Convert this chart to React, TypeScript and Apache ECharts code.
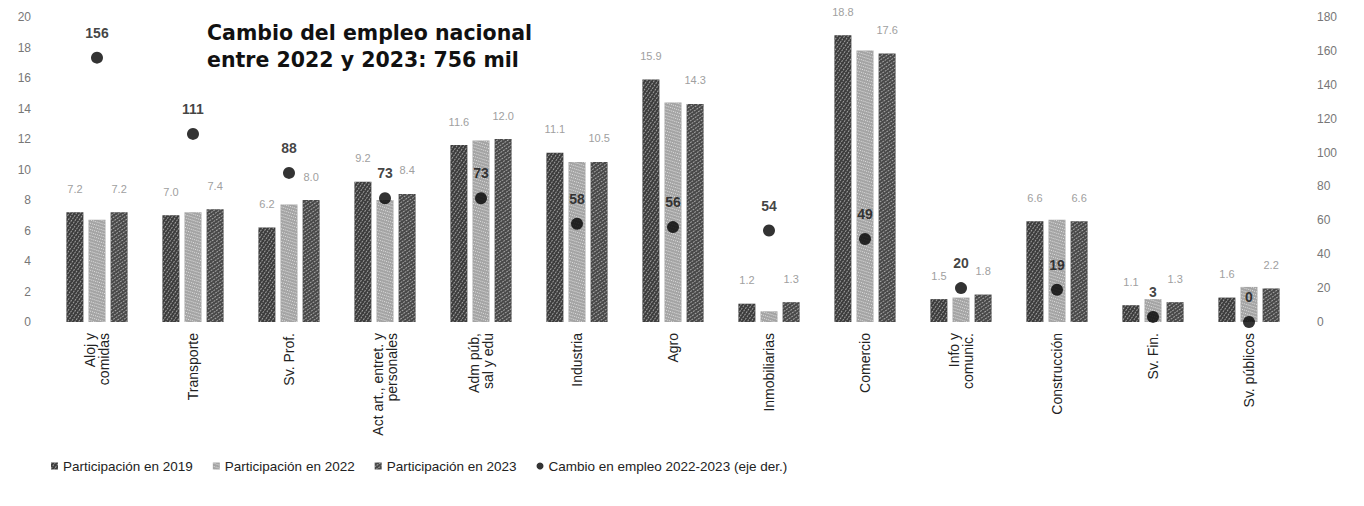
import React, { useEffect, useRef } from "react";
import * as echarts from "echarts";

const categories = [
  "Aloj y\ncomidas",
  "Transporte",
  "Sv. Prof.",
  "Act art., entret. y\npersonales",
  "Adm púb,\nsal y edu",
  "Industria",
  "Agro",
  "Inmobiliarias",
  "Comercio",
  "Info y\ncomunic.",
  "Construcción",
  "Sv. Fin.",
  "Sv. públicos",
];

const part2019 = [7.2, 7.0, 6.2, 9.2, 11.6, 11.1, 15.9, 1.2, 18.8, 1.5, 6.6, 1.1, 1.6];
const part2022 = [6.7, 7.2, 7.7, 8.0, 11.9, 10.5, 14.4, 0.7, 17.8, 1.6, 6.7, 1.5, 2.3];
const part2023 = [7.2, 7.4, 8.0, 8.4, 12.0, 10.5, 14.3, 1.3, 17.6, 1.8, 6.6, 1.3, 2.2];
const cambio = [156, 111, 88, 73, 73, 58, 56, 54, 49, 20, 19, 3, 0];

const leftTicks = { min: 0, max: 20, interval: 2 };
const rightTicks = { min: 0, max: 180, interval: 20 };

export default function App() {
  const ref = useRef<HTMLDivElement>(null);
  useEffect(() => {
    if (!ref.current) return;
    const chart = echarts.init(ref.current, undefined, { renderer: "svg" });
    const font = "Liberation Sans, Arial, sans-serif";
    const barLabel = {
      show: true,
      position: "top",
      distance: 18,
      color: "#a0a0a0",
      fontSize: 11,
      fontFamily: font,
      formatter: (p: any) => Number(p.value).toFixed(1),
    };
    chart.setOption({
      animation: false,
      textStyle: { fontFamily: font },
      graphic: [
        {
          type: "text",
          left: 207,
          top: 19,
          style: {
            text: "Cambio del empleo nacional\nentre 2022 y 2023: 756 mil",
            fontSize: 20.5,
            fontWeight: "bold",
            lineHeight: 27,
            fill: "#111",
            fontFamily: "DejaVu Sans, Verdana, sans-serif",
          },
        },
      ],
      grid: { left: 49, right: 67, top: 17, bottom: 184 },
      legend: {
        left: 46,
        top: 454,
        itemWidth: 7,
        itemHeight: 7,
        itemGap: 20,
        textStyle: { fontSize: 13.5, color: "#222", fontFamily: font },
        data: [
          { name: "Participación en 2019", icon: "rect" },
          { name: "Participación en 2022", icon: "rect" },
          { name: "Participación en 2023", icon: "rect" },
          { name: "Cambio en empleo 2022-2023 (eje der.)", icon: "circle" },
        ],
      },
      xAxis: {
        type: "category",
        data: categories,
        axisLine: { show: false },
        axisTick: { show: false },
        axisLabel: {
          rotate: 90,
          interval: 0,
          margin: 11,
          fontSize: 14,
          color: "#222",
          lineHeight: 14,
        },
      },
      yAxis: [
        {
          type: "value",
          ...leftTicks,
          splitLine: { show: false },
          axisLine: { show: false },
          axisTick: { show: false },
          axisLabel: { fontSize: 12, color: "#777", margin: 18 },
        },
        {
          type: "value",
          ...rightTicks,
          position: "right",
          splitLine: { show: false },
          axisLine: { show: false },
          axisTick: { show: false },
          axisLabel: { fontSize: 12, color: "#777", margin: 20, align: "left" },
        },
      ],
      series: [
        {
          name: "Participación en 2019",
          type: "bar",
          data: part2019,
          barWidth: 17,
          barGap: "30%",
          itemStyle: {
            color: "#3c3c3c",
            decal: {
              symbol: "rect",
              symbolSize: 1,
              color: "rgba(255,255,255,0.5)",
              dashArrayX: [1, 2],
              dashArrayY: [2, 1],
              rotation: 0.6,
            },
          },
          label: barLabel,
        },
        {
          name: "Participación en 2022",
          type: "bar",
          data: part2022,
          barWidth: 17,
          barGap: "30%",
          itemStyle: {
            color: "#a4a4a4",
            decal: {
              symbol: "rect",
              symbolSize: 1,
              color: "rgba(255,255,255,0.65)",
              dashArrayX: [1, 1],
              dashArrayY: [1, 2],
              rotation: 0.3,
            },
          },
        },
        {
          name: "Participación en 2023",
          type: "bar",
          data: part2023,
          barWidth: 17,
          barGap: "30%",
          itemStyle: {
            color: "#484848",
            decal: {
              symbol: "rect",
              symbolSize: 1,
              color: "rgba(255,255,255,0.5)",
              dashArrayX: [2, 1],
              dashArrayY: [1, 2],
              rotation: -0.6,
            },
          },
          label: barLabel,
        },
        {
          name: "Cambio en empleo 2022-2023 (eje der.)",
          type: "scatter",
          yAxisIndex: 1,
          data: cambio,
          symbol: "circle",
          symbolSize: 12,
          clip: false,
          itemStyle: { color: "#000" },
          label: {
            show: true,
            position: "top",
            distance: 12,
            fontSize: 14,
            fontWeight: "bold",
            color: "#111",
          },
          z: 5,
        },
      ],
    });
    return () => chart.dispose();
  }, []);
  return (
    <div
      ref={ref}
      style={{ width: 1364, height: 506, margin: "-8px 0 0 -8px" }}
    />
  );
}
